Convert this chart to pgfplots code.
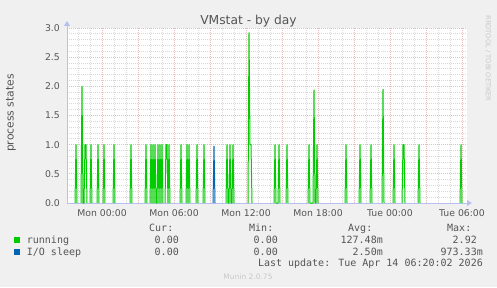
\documentclass[border=0pt]{standalone}
\usepackage{fontspec}
\setmainfont{DejaVu Sans}
\newfontfamily\mono{DejaVu Sans Mono}
\usepackage{pgfplots}
\pgfplotsset{compat=1.18}
\usepackage{pgfplotstable}
\usetikzlibrary{arrows.meta}
\definecolor{bgcol}{HTML}{F0F0F0}
\definecolor{txtcol}{HTML}{555555}
\definecolor{wmcol}{HTML}{C8C8C8}
\definecolor{axiscol}{HTML}{B8C0F0}
\definecolor{mgridcol}{HTML}{EBBABA}
\definecolor{gridcol}{HTML}{D8D8D8}
\definecolor{runcol}{HTML}{00CC00}
\definecolor{iocol}{HTML}{0066B3}

% minutes since Mon 00:00, process states
\pgfplotstableread{
x y
-135 0
-130 1
-125 0
-120 nan
-105 0
-100 2
-95 0
-90 0
-85 1
-80 1
-75 0
-70 nan
-60 0
-55 1
-50 0
-40 nan
-25 0
-20 1
-15 0
0 nan
5 0
10 1
15 0
30 nan
55 0
60 1
65 0
100 nan
140 0
145 1
150 0
180 nan
215 0
220 1
225 0
230 nan
240 0
245 1
250 0
255 1
260 0
265 1
270 0
275 0
280 1
285 0
290 1
295 0
300 1
305 0
310 nan
315 0
320 1
325 1
330 0
335 1
340 0
360 nan
390 0
395 1
400 0
410 nan
420 0
425 1
430 0
435 1
440 0
450 nan
470 0
475 1
480 0
490 nan
505 0
510 1
515 0
550 nan
620 0
625 1
630 0
635 0
640 1
645 0
650 0
655 1
660 0
700 nan
730 0
735 2.92
740 1
745 1
750 0
800 nan
860 0
865 1
870 0
880 0
885 1
890 0
900 nan
920 0
925 1
930 0
1000 nan
1030 0
1035 1
1040 0
1055 0
1060 1.94
1065 0
1070 0
1075 1
1080 0
1100 nan
1215 0
1220 1
1225 0
1250 nan
1285 0
1290 1
1295 0
1320 nan
1340 0
1345 1
1350 0
1380 nan
1400 0
1405 1.95
1410 0
1430 nan
1455 0
1460 1
1465 0
1480 nan
1500 0
1505 1
1510 1
1515 0
1550 nan
1580 0
1585 1
1590 0
1700 nan
1790 0
1795 1
1800 0
}\running

\pgfplotstableread{
x y
555 0
560 0.973
565 0
}\iosleep

\begin{document}
\begin{tikzpicture}
\begin{scope}[x=1bp,y=1bp]
\fill[bgcol] (0,0) rectangle (497,287);
\end{scope}
\begin{axis}[
  at={(67bp,84bp)}, anchor=south west,
  scale only axis, width=400bp, height=175bp,
  xmin=-175, xmax=1825, ymin=0, ymax=3,
  axis background/.style={fill=white},
  axis x line*=bottom, axis y line*=left,
  x axis line style={draw=axiscol, line width=1bp, shorten >=-5bp, -{Triangle[length=5bp,width=6bp]}},
  y axis line style={draw=axiscol, line width=1bp, shorten >=-7bp, -{Triangle[length=5bp,width=6bp]}},
  xtick={0,180,...,1800},
  xticklabels={Mon 00:00,,Mon 06:00,,Mon 12:00,,Mon 18:00,,Tue 00:00,,Tue 06:00},
  minor xtick={-120,-60,...,1800},
  ytick={0,0.5,...,3},
  minor ytick={0,0.1,...,3},
  major tick length=0pt, minor tick length=0pt,
  grid=both,
  major grid style={draw=mgridcol, line width=0.8bp, dash pattern=on 1bp off 1bp},
  minor grid style={draw=gridcol, line width=0.8bp, dash pattern=on 1bp off 1bp},
  /pgf/number format/assume math mode=true,
  every tick label/.append style={font=\fontsize{9.3bp}{11bp}\selectfont, text=txtcol, inner sep=0pt},
  yticklabel style={anchor=east, xshift=-7bp, /pgf/number format/.cd, fixed, fixed zerofill, precision=1},
  xticklabel style={anchor=north, yshift=-6.5bp},
  unbounded coords=jump,
  clip=true,
]
\addplot[runcol, line width=1bp, line join=round] table[x=x,y=y] {\running};
\addplot[iocol, line width=1bp, line join=round] table[x=x,y=y] {\iosleep};
\end{axis}
\begin{scope}[x=1bp,y=1bp]
% title
\node[anchor=base, text=txtcol, inner sep=0pt, font=\fontsize{12.3bp}{14bp}\selectfont] at (248.5,263) {VMstat - by day};
% y label
\node[rotate=90, text=txtcol, inner sep=0pt, font=\fontsize{10.8bp}{13bp}\selectfont] at (11,174) {process states};
% watermark
\node[rotate=-90, text=wmcol, inner sep=0pt, font=\fontsize{6.7bp}{8bp}\selectfont] at (488,228.5) {RRDTOOL / TOBI OETIKER};
% legend
\begin{scope}[every node/.style={inner sep=0pt, text=txtcol, font=\mono\fontsize{10bp}{12bp}\selectfont}]
\node[anchor=base west] at (149,56) {Cur:};
\node[anchor=base west] at (249,56) {Min:};
\node[anchor=base west] at (348,56) {Avg:};
\node[anchor=base west] at (447,56) {Max:};
\fill[runcol] (14,44) rectangle (20,50);
\node[anchor=base west] at (26.7,43.7) {running};
\node[anchor=base east] at (179,43.7) {0.00};
\node[anchor=base east] at (278,43.7) {0.00};
\node[anchor=base east] at (383,43.7) {127.48m};
\node[anchor=base east] at (477,43.7) {2.92};
\fill[iocol] (14,32) rectangle (20,38);
\node[anchor=base west] at (26.7,32) {I/O sleep};
\node[anchor=base east] at (179,32) {0.00};
\node[anchor=base east] at (278,32) {0.00};
\node[anchor=base east] at (383,32) {2.50m};
\node[anchor=base east] at (483,32) {973.33m};
\node[anchor=base east] at (483,20.3) {Last update: Tue Apr 14 06:20:02 2026};
\end{scope}
\node[anchor=base, inner sep=0pt, text=wmcol, font=\fontsize{7.5bp}{9bp}\selectfont] at (248,7.5) {Munin 2.0.75};
\end{scope}
\end{tikzpicture}
\end{document}
